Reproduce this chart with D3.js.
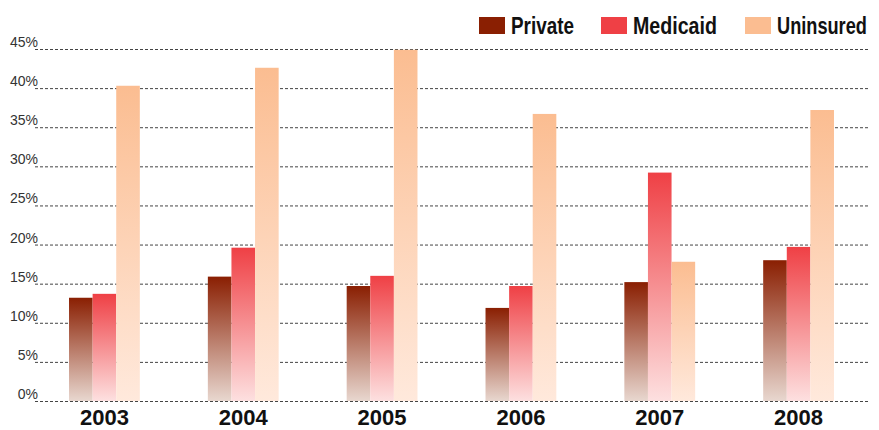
<!DOCTYPE html>
<html><head><meta charset="utf-8">
<script src="https://cdn.jsdelivr.net/npm/d3@7"></script>
<style>body{margin:0;background:#fff}svg{display:block}</style>
</head><body>
<svg id="c" width="879" height="430"></svg>
<script>
const years = ["2003","2004","2005","2006","2007","2008"];
const seriesNames = ["Private","Medicaid","Uninsured"];
const privateVals  = [13.2, 15.9, 14.7, 11.9, 15.2, 18.0];
const medicaidVals = [13.7, 19.6, 16.0, 14.7, 29.2, 19.7];
const uninsuredVals= [40.3, 42.6, 44.9, 36.7, 17.8, 37.2];
const yTicks = [0,5,10,15,20,25,30,35,40,45];
const topColors = ["#8a1f02","#ef4045","#fbbd91"];
const bottomColors = ["#e8d7cf","#fde0e0","#ffe9dc"];

(function(){
const values = [privateVals, medicaidVals, uninsuredVals];
const svg = d3.select("#c");
const mL = 35, mR = 868, mT = 49, mB = 401;
const x0 = d3.scaleBand().domain(years).range([mL, mR]).paddingInner(0.49).paddingOuter(0.245);
const x1 = d3.scaleBand().domain(seriesNames).range([0, x0.bandwidth()]);
const y = d3.scaleLinear().domain([0,45]).range([mB, mT]);

const defs = svg.append("defs");
seriesNames.forEach((s,i)=>{
  const g = defs.append("linearGradient").attr("id","g"+i).attr("x1",0).attr("y1",0).attr("x2",0).attr("y2",1);
  g.append("stop").attr("offset","0").attr("stop-color",topColors[i]);
  g.append("stop").attr("offset","1").attr("stop-color",bottomColors[i]);
});

svg.append("g").selectAll("line").data(yTicks).join("line")
  .attr("x1", mL).attr("x2", mR)
  .attr("y1", d=>y(d)+0.5).attr("y2", d=>y(d)+0.5)
  .attr("stroke","#444").attr("stroke-width",1).attr("stroke-dasharray","3,2");

svg.append("g").selectAll("text").data(yTicks).join("text")
  .attr("x", 38).attr("y", d=>y(d)-2)
  .attr("text-anchor","end")
  .attr("font-family","'Liberation Sans', Arial, sans-serif")
  .attr("font-size", 14).attr("fill","#333")
  .text(d=>d+"%");

const g = svg.append("g");
years.forEach((yr,yi)=>{
  seriesNames.forEach((s,si)=>{
    const v = values[si][yi];
    g.append("rect")
      .attr("x", x0(yr)+x1(s))
      .attr("width", x1.bandwidth())
      .attr("y", y(v))
      .attr("height", y(0)-y(v))
      .attr("fill","url(#g"+si+")");
  });
});

svg.append("g").selectAll("text").data(years).join("text")
  .attr("x", d=>x0(d)+x0.bandwidth()/2)
  .attr("y", 425)
  .attr("text-anchor","middle")
  .attr("font-family","'Liberation Sans', Arial, sans-serif")
  .attr("font-weight","bold").attr("font-size",22).attr("fill","#111")
  .text(d=>d);

const legX = [479, 601, 745];
const legW = [63, 84, 90];
const leg = svg.append("g");
seriesNames.forEach((s,i)=>{
  leg.append("rect").attr("x",legX[i]).attr("y",17).attr("width",26).attr("height",17).attr("fill",topColors[i]);
  const t = leg.append("text").attr("x",0).attr("y",0)
    .attr("font-family","'Liberation Sans Narrow','Liberation Sans', Arial, sans-serif")
    .attr("font-weight","bold").attr("font-size",23).attr("fill","#111")
    .text(s);
  const w = t.node().getComputedTextLength();
  t.attr("transform", `translate(${legX[i]+32},34) scale(${legW[i]/w},1)`);
});
})();
</script>
</body></html>
